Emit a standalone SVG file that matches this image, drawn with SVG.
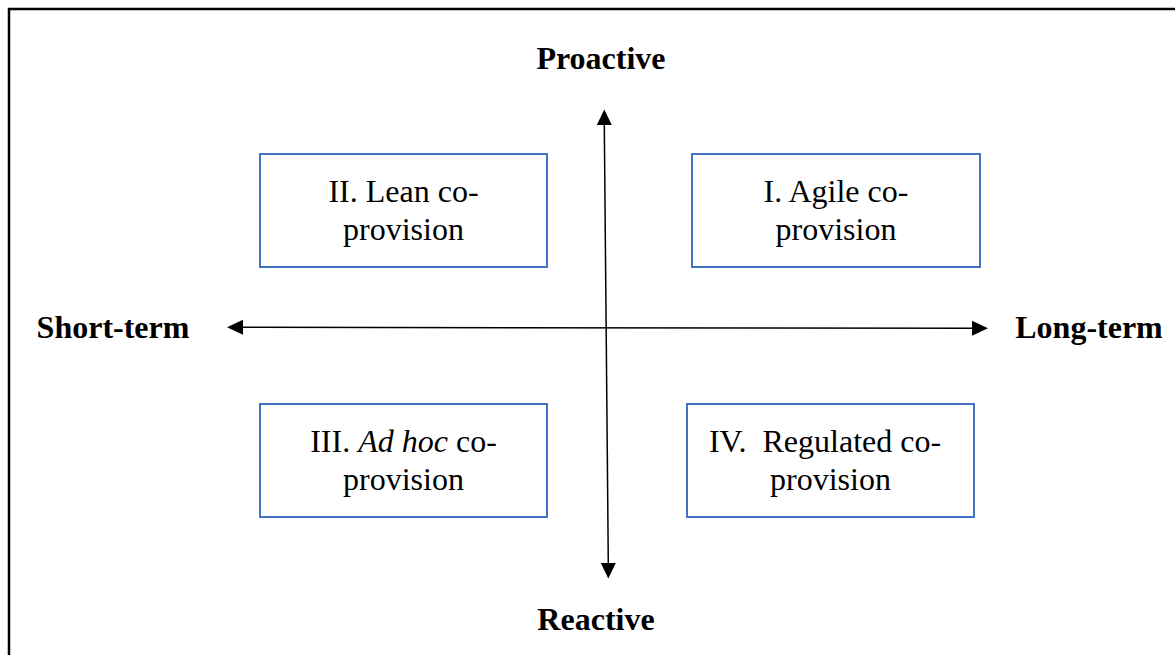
<svg xmlns="http://www.w3.org/2000/svg" width="1175" height="655" viewBox="0 0 1175 655">
  <style>
    .frame { fill: none; stroke: #000; stroke-width: 2.5; }
    .box { fill: #fff; stroke: #4472C4; stroke-width: 2; }
    .axis { fill: none; stroke: #000; stroke-width: 1.5; }
    .head { fill: #000; }
    .label { font-family: "Liberation Serif", "Times New Roman", serif; font-size: 32px; fill: #000; text-anchor: middle; }
    .pole { font-family: "Liberation Serif", "Times New Roman", serif; font-size: 32px; font-weight: bold; fill: #000; text-anchor: middle; }
  </style>
  <rect width="1175" height="655" fill="#fff"/>
  <!-- outer frame (open to the right and bottom) -->
  <path class="frame" d="M9,655 L9,9 L1175,9"/>

  <g id="connectors">
    <!-- horizontal axis: short-term to long-term -->
    <line id="axis-horizontal" class="axis" x1="242" y1="327.3" x2="973" y2="328.3"/>
    <path class="head" d="M227,327.3 L243,319.8 L243,334.8 Z"/>
    <path class="head" d="M988,328.3 L972,320.8 L972,335.8 Z"/>
    <!-- vertical axis: proactive to reactive -->
    <line id="axis-vertical" class="axis" x1="604.3" y1="124" x2="608.3" y2="564"/>
    <path class="head" d="M604.3,109.5 L596.8,125 L611.8,125 Z"/>
    <path class="head" d="M608.3,578.5 L600.8,563 L615.8,563 Z"/>
  </g>

  <g id="pole-proactive"><text class="pole" x="601" y="69">Proactive</text></g>
  <g id="pole-reactive"><text class="pole" x="596" y="630">Reactive</text></g>
  <g id="pole-short-term"><text class="pole" x="113" y="338">Short-term</text></g>
  <g id="pole-long-term"><text class="pole" x="1089" y="338">Long-term</text></g>

  <g id="node-lean">
    <rect class="box" x="260" y="154" width="287" height="113"/>
    <text class="label" x="403.5" y="202">II. Lean co-</text>
    <text class="label" x="403.5" y="240">provision</text>
  </g>
  <g id="node-agile">
    <rect class="box" x="692" y="154" width="288" height="113"/>
    <text class="label" x="836" y="202">I. Agile co-</text>
    <text class="label" x="836" y="240">provision</text>
  </g>
  <g id="node-adhoc">
    <rect class="box" x="260" y="404" width="287" height="113"/>
    <text class="label" x="403.5" y="452">III. <tspan font-style="italic">Ad hoc</tspan> co-</text>
    <text class="label" x="403.5" y="490">provision</text>
  </g>
  <g id="node-regulated">
    <rect class="box" x="687" y="404" width="287" height="113"/>
    <text class="label" x="825" y="452" xml:space="preserve">IV.  Regulated co-</text>
    <text class="label" x="830.5" y="490">provision</text>
  </g>
</svg>
